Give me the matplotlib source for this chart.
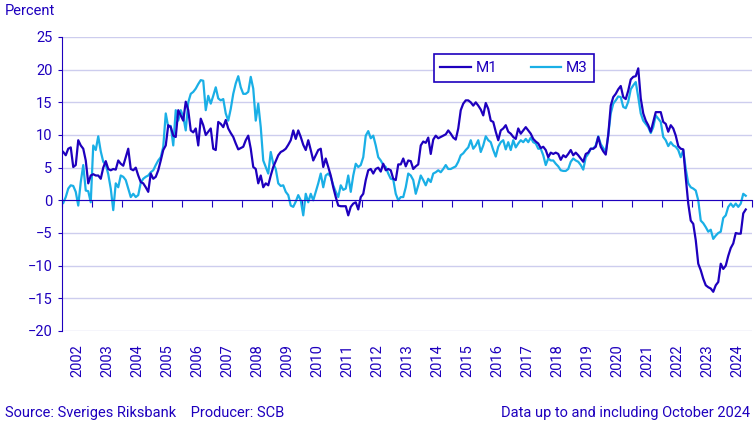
import numpy as np
import pandas as pd
from matplotlib import pyplot as plt

# monthly growth rates, Jan 2002 - Oct 2024 (percent)
m1 = [
    7.4, 6.9, 7.9, 8.1, 5.1, 5.4, 9.2, 8.4, 7.9, 6.1, 2.6, 3.8,  # 2002
    4.0, 3.8, 3.8, 3.3, 5.0, 6.0, 4.8, 4.6, 4.8, 4.7, 6.1, 5.6,  # 2003
    5.3, 6.6, 7.9, 4.8, 4.6, 5.0, 3.8, 2.8, 2.6, 2.0, 1.3, 4.1,  # 2004
    3.3, 3.6, 4.6, 6.1, 7.7, 8.4, 11.5, 11.2, 9.9, 9.7, 13.8, 13.0,  # 2005
    12.2, 15.1, 13.8, 10.7, 10.4, 11.0, 8.4, 12.5, 11.5, 10.0, 10.5, 11.0,  # 2006
    7.9, 7.7, 12.0, 11.7, 11.2, 12.3, 11.0, 10.3, 9.7, 8.7, 7.8, 8.0,  # 2007
    8.2, 9.2, 9.9, 7.9, 5.1, 4.8, 2.6, 3.8, 2.0, 2.6, 2.3, 3.8,  # 2008
    5.1, 6.0, 6.9, 7.4, 7.6, 7.9, 8.5, 9.2, 10.7, 9.4, 10.7, 9.7,  # 2009
    8.5, 7.7, 9.2, 7.7, 6.1, 6.9, 7.7, 7.9, 5.1, 6.4, 5.1, 3.8,  # 2010
    2.0, 0.5, -0.8, -0.9, -0.9, -0.9, -2.3, -1.0, -0.5, -0.3, -1.4, 0.5,  # 2011
    1.0, 3.1, 4.6, 4.8, 4.1, 4.8, 5.0, 4.4, 5.6, 4.6, 4.8, 4.6,  # 2012
    3.3, 3.1, 5.5, 5.5, 6.4, 5.2, 6.1, 6.0, 4.8, 5.2, 5.5, 8.4,  # 2013
    9.0, 8.8, 9.6, 7.1, 9.3, 9.9, 9.5, 9.7, 9.9, 10.1, 10.7, 10.2,  # 2014
    9.6, 9.3, 11.0, 13.8, 14.8, 15.3, 15.3, 15.0, 14.5, 15.0, 14.5, 13.9,  # 2015
    13.0, 14.9, 14.0, 12.2, 12.0, 10.5, 9.2, 10.7, 11.0, 11.5, 10.5, 10.2,  # 2016
    9.7, 9.4, 11.0, 10.2, 10.7, 11.2, 10.7, 10.2, 9.4, 9.0, 8.7, 8.0,  # 2017
    8.2, 7.7, 6.6, 7.3, 7.1, 7.3, 7.1, 6.2, 6.9, 6.6, 7.1, 7.7,  # 2018
    6.9, 7.3, 6.9, 6.4, 5.9, 7.1, 7.3, 7.9, 7.9, 8.2, 9.7, 8.2,  # 2019
    7.5, 7.0, 10.0, 14.5, 15.8, 16.3, 17.0, 17.5, 15.8, 15.5, 16.8, 18.5,  # 2020
    18.9, 19.0, 20.2, 15.6, 13.3, 12.2, 11.5, 10.5, 12.0, 13.5, 13.5, 13.5,  # 2021
    12.0, 11.7, 10.5, 11.5, 11.0, 9.9, 8.3, 7.9, 7.8, 3.5, -0.5, -3.1,  # 2022
    -3.6, -6.1, -9.7, -10.7, -12.0, -13.0, -13.3, -13.5, -14.0, -13.0, -12.5, -9.7,  # 2023
    -10.5, -10.0, -8.5, -7.3, -6.6, -5.0, -5.1, -5.1, -2.0, -1.4,  # 2024
]

m3 = [
    -0.4, 0.5, 1.8, 2.3, 2.2, 1.3, -0.8, 2.8, 5.4, 1.5, 1.4, -0.3,  # 2002
    8.4, 7.7, 9.8, 7.5, 5.9, 5.5, 4.0, 1.8, -1.5, 2.6, 2.0, 3.8,  # 2003
    3.6, 3.1, 1.8, 0.5, 1.0, 0.5, 0.8, 2.7, 3.3, 3.6, 3.8, 4.3,  # 2004
    4.6, 5.4, 6.1, 6.6, 8.2, 13.3, 11.2, 11.4, 8.4, 13.8, 12.2, 13.8,  # 2005
    12.8, 10.7, 15.0, 16.3, 16.6, 17.1, 17.8, 18.4, 18.3, 13.8, 16.0, 14.8,  # 2006
    16.0, 17.3, 15.6, 15.3, 15.5, 13.3, 12.2, 14.0, 16.3, 17.9, 19.0, 17.3,  # 2007
    16.3, 16.3, 16.6, 18.9, 17.1, 12.2, 14.8, 11.2, 6.1, 5.1, 4.1, 7.4,  # 2008
    5.6, 4.8, 2.6, 2.2, 2.3, 1.3, 0.8, -0.8, -1.0, -0.2, 0.8, 0.0,  # 2009
    -2.3, 1.0, -0.3, 1.0, 0.0, 1.3, 2.6, 4.1, 2.0, 3.8, 4.1, 3.6,  # 2010
    2.3, 1.3, 0.5, 2.3, 1.6, 1.8, 3.8, 1.3, 3.8, 5.6, 5.1, 5.4,  # 2011
    6.6, 9.9, 10.6, 9.5, 9.9, 8.4, 6.6, 6.1, 5.4, 5.1, 4.1, 3.3,  # 2012
    3.2, 1.0, 0.0, 0.5, 0.5, 2.0, 4.1, 3.8, 3.1, 1.0, 2.3, 3.8,  # 2013
    3.1, 2.3, 3.3, 2.8, 4.1, 4.3, 4.6, 4.3, 4.8, 5.4, 4.8, 4.8,  # 2014
    5.0, 5.2, 5.9, 6.9, 7.2, 7.7, 8.1, 9.2, 7.9, 8.4, 9.2, 7.4,  # 2015
    8.4, 9.8, 9.2, 8.9, 7.7, 6.7, 8.2, 8.9, 9.2, 7.8, 8.9, 7.7,  # 2016
    9.2, 8.1, 8.7, 9.2, 8.9, 9.4, 8.9, 9.6, 8.9, 8.7, 7.9, 7.9,  # 2017
    6.9, 5.4, 6.4, 6.1, 6.1, 5.6, 5.2, 4.6, 4.5, 4.5, 4.8, 5.9,  # 2018
    6.4, 6.1, 5.9, 5.4, 4.7, 6.6, 7.1, 7.9, 7.9, 8.4, 9.8, 8.6,  # 2019
    8.0, 7.4, 10.0, 13.3, 14.8, 15.3, 15.9, 15.8, 14.3, 14.1, 15.1, 17.0,  # 2020
    17.6, 18.1, 15.8, 13.3, 12.2, 11.7, 11.2, 10.3, 11.2, 13.0, 12.5, 12.0,  # 2021
    9.7, 9.2, 8.3, 8.9, 8.4, 8.2, 7.7, 6.6, 7.7, 4.8, 2.6, 2.0,  # 2022
    1.8, 1.5, 0.0, -3.1, -3.5, -4.1, -4.8, -4.5, -5.9, -5.4, -5.0, -4.8,  # 2023
    -2.7, -2.3, -1.0, -0.5, -1.0, -0.5, -1.0, -0.5, 1.0, 0.7,  # 2024
]

dates = pd.date_range("2002-01-01", "2024-10-01", freq="MS")
years = list(range(2002, 2025))
y_ticks = list(range(-20, 30, 5))

DARK = "#1E00BE"
LIGHT = "#1AAFE6"
GRID = "#CDCDEE"

plt.rcParams["font.family"] = ["Roboto", "DejaVu Sans"]

fig = plt.figure(figsize=(7.55, 4.3), dpi=100)
ax = fig.add_axes([62 / 755, 1 - 331 / 430, 690 / 755, 294 / 430])

idx = np.arange(len(dates))
ax.plot(idx, m1, color=DARK, lw=1.6, label="M1", zorder=3)
ax.plot(idx, m3, color=LIGHT, lw=1.6, label="M3", zorder=2)

ax.set_xlim(-0.5, 12 * len(years) - 0.5)
ax.set_ylim(-20, 25)

# horizontal grid
ax.set_yticks(y_ticks)
ax.yaxis.grid(True, color=GRID, lw=1)
ax.set_axisbelow(True)
ax.tick_params(axis="y", direction="out", length=3, color=DARK,
               labelcolor=DARK, labelsize=10.5, pad=4)

# x axis sits at zero, ticks between years
for s in ["top", "right"]:
    ax.spines[s].set_visible(False)
ax.spines["left"].set_color(DARK)
ax.spines["bottom"].set_color(DARK)
ax.spines["bottom"].set_position(("data", 0))
ax.spines["bottom"].set_zorder(4)
ax.set_xticks([12 * i - 0.5 for i in range(len(years) + 1)])
ax.set_xticklabels([])
ax.tick_params(axis="x", direction="out", length=5, color=DARK)

trans = ax.get_xaxis_transform()
for i, yr in enumerate(years):
    ax.text(12 * i + 5.5, -0.045, str(yr), transform=trans, rotation=90,
            ha="center", va="top", color=DARK, fontsize=10.5)

leg = ax.legend(loc="center", ncol=2, bbox_to_anchor=(0.5275, 0.84, 0.255, 0.109),
                mode="expand", frameon=True, fancybox=False, edgecolor=DARK,
                framealpha=1, fontsize=11, handlelength=2.0, handletextpad=0.3,
                borderpad=0.45, columnspacing=1.5, labelcolor=DARK)
leg.get_frame().set_linewidth(1.2)

fig.text(5 / 755, 1 - 11 / 430, "Percent", color=DARK, fontsize=10.5,
         ha="left", va="center")
fig.text(5 / 755, 1 - 413 / 430, "Source: Sveriges Riksbank    Producer: SCB",
         color=DARK, fontsize=10.5, ha="left", va="center")
fig.text(750 / 755, 1 - 413 / 430, "Data up to and including October 2024",
         color=DARK, fontsize=10.5, ha="right", va="center")

fig.savefig("out.png", dpi=100)
